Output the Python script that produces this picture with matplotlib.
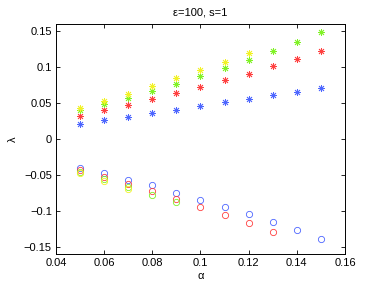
import matplotlib
matplotlib.use("Agg")
import matplotlib.pyplot as plt

plt.rcParams['font.family'] = ['Liberation Sans', 'DejaVu Sans']
plt.rcParams['font.size'] = 8

alpha = [0.05, 0.06, 0.07, 0.08, 0.09, 0.10, 0.11, 0.12, 0.13, 0.14, 0.15]

# positive branch (stars)
blue_star = [0.0214, 0.0264, 0.031, 0.036, 0.041, 0.046, 0.051, 0.056, 0.061, 0.066, 0.071]
red_star = [0.0325, 0.0403, 0.0478, 0.0561, 0.0644, 0.0728, 0.0815, 0.0908, 0.101, 0.1117, 0.1228]
green_star = [0.0399, 0.0482, 0.0575, 0.0667, 0.0769, 0.0871, 0.0982, 0.1097, 0.1222, 0.1353, 0.1492]
yellow_star = [0.0436, 0.0528, 0.063, 0.0732, 0.0843, 0.0954, 0.1075, 0.12]

# negative branch (circles)
blue_circ = [-0.0397, -0.048, -0.0564, -0.0647, -0.0745, -0.0842, -0.0944, -0.1046, -0.1157, -0.1272, -0.1393]
red_circ = [-0.043, -0.0528, -0.0629, -0.0722, -0.0833, -0.0944, -0.1056, -0.1171, -0.1292]
green_circ = [-0.0458, -0.056, -0.0667, -0.0782, -0.0883]
yellow_circ = [-0.0477, -0.0587, -0.0689]

colors = {
    "blue": (0.3, 0.4, 1.0),
    "red": (1.0, 0.25, 0.25),
    "green": (0.5, 0.95, 0.15),
    "yellow": (0.95, 0.95, 0.15),
}

fig = plt.figure(figsize=(3.82, 2.86), dpi=100)
ax = fig.add_axes([0.1466, 0.1119, 0.7565, 0.8042])

star = (8, 2, 0)
for vals, c in [(blue_star, "blue"), (red_star, "red"), (green_star, "green"), (yellow_star, "yellow")]:
    ax.plot(alpha[:len(vals)], vals, linestyle="none", marker=star, ms=5,
            mew=0.6, color=colors[c])
for vals, c in [(blue_circ, "blue"), (red_circ, "red"), (green_circ, "green"), (yellow_circ, "yellow")]:
    ax.plot(alpha[:len(vals)], vals, linestyle="none", marker="o", ms=4.5,
            mew=0.6, mfc="none", color=colors[c])

ax.set_xlim(0.04, 0.16)
ax.set_ylim(-0.16, 0.16)
ax.set_xticks([0.04, 0.06, 0.08, 0.1, 0.12, 0.14, 0.16])
ax.set_xticklabels(["0.04", "0.06", "0.08", "0.1", "0.12", "0.14", "0.16"])
ax.set_yticks([-0.15, -0.1, -0.05, 0, 0.05, 0.1, 0.15])
ax.set_yticklabels(["\u22120.15", "\u22120.1", "\u22120.05", "0", "0.05", "0.1", "0.15"])
ax.tick_params(direction="in", top=True, right=True, length=3, width=0.6, pad=3)
for s in ax.spines.values():
    s.set_linewidth(0.7)

ax.set_xlabel("\u03b1", labelpad=2)
ax.set_ylabel("\u03bb", labelpad=4)
ax.set_title("\u03b5=100, s=1", fontsize=8, pad=6)

fig.savefig("out.png", dpi=100)
